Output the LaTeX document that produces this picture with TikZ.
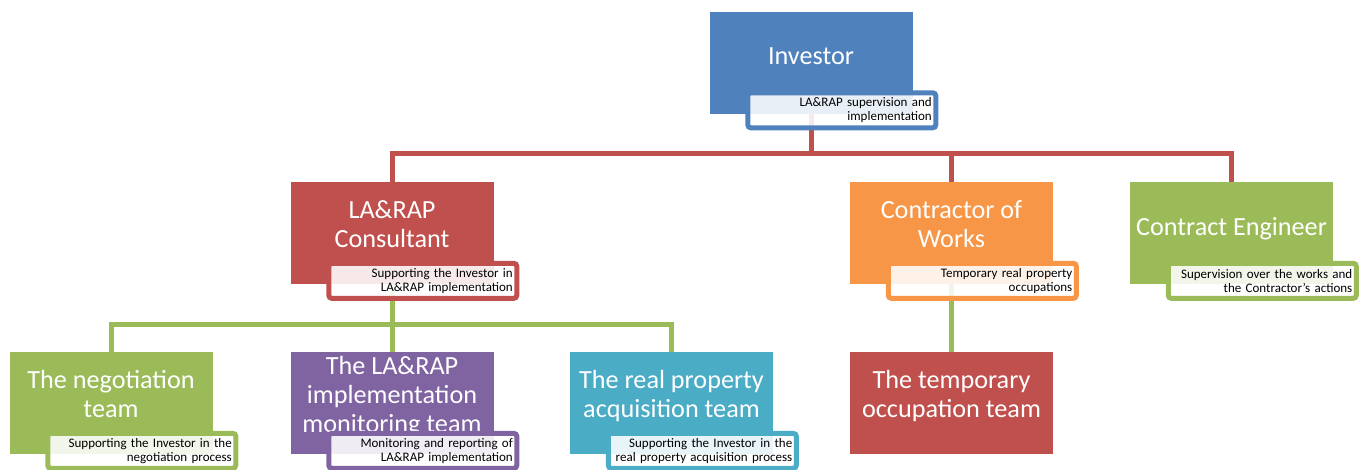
\documentclass[tikz,border=0pt]{standalone}
\usepackage{fontspec}
\setmainfont{Carlito}
\usepackage{tikz}

\definecolor{invblue}{HTML}{4F81BD}
\definecolor{conred}{HTML}{C0504D}
\definecolor{worksorange}{HTML}{F79646}
\definecolor{enggreen}{HTML}{9BBB59}
\definecolor{monpurple}{HTML}{8064A2}
\definecolor{acqaqua}{HTML}{4BACC6}

\begin{document}
\begin{tikzpicture}[x=1pt, y=-1pt,
	orgbox/.style={minimum width=203pt, minimum height=102pt, inner sep=0pt,
		text=white, align=center, font=\fontsize{26.2}{29}\selectfont,
		execute at begin node={\rule{0pt}{22pt}},
		execute at end node={\rule[-18pt]{0pt}{18pt}}},
	notebox/.style={line width=5pt, rounded corners=3pt, fill=white,
		fill opacity=0.88, text opacity=1, text=black,
		minimum width=188pt, minimum height=35pt, text width=180pt,
		inner xsep=4pt, inner ysep=0pt, outer sep=0pt, align=right,
		font=\fontsize{13}{13.6}\selectfont, anchor=north west},
	redline/.style={draw=conred, line width=5pt},
	greenline/.style={draw=enggreen, line width=5pt}]

	\useasboundingbox (0,0) rectangle (1362,469);

	% Top: the Investor
	\node[orgbox, fill=invblue] (inv) at (811,62.5) {Investor};

	% Second row
	\node[orgbox, fill=conred] (cons) at (392,233) {LA\&RAP\\Consultant};
	\node[orgbox, fill=worksorange] (works) at (951.5,233) {Contractor of\\Works};
	\node[orgbox, fill=enggreen] (eng) at (1231.5,233) {Contract Engineer};

	% Third row
	\node[orgbox, fill=enggreen] (nego) at (111,403) {The negotiation\\team};
	\node[orgbox, fill=monpurple] (moni) at (392,403) {The LA\&RAP\\implementation\\monitoring team};
	\node[orgbox, fill=acqaqua] (acq) at (671.5,403) {The real property\\acquisition team};
	\node[orgbox, fill=conred] (temp) at (951.5,403) {The temporary\\occupation team};

	% Connectors from the Investor
	\draw[redline] (inv.south) -- ++(0,39.5) -| (cons.north);
	\draw[redline] (inv.south) -- ++(0,39.5) -| (works.north);
	\draw[redline] (inv.south) -- ++(0,39.5) -| (eng.north);

	% Connectors from the consultant and the contractor
	\draw[greenline] (cons.south) -- ++(0,40.5) -| (nego.north);
	\draw[greenline] (cons.south) -- ++(0,40.5) -| (moni.north);
	\draw[greenline] (cons.south) -- ++(0,40.5) -| (acq.north);
	\draw[greenline] (works.south) -- (temp.north);

	% Role notes
	\node[notebox, draw=invblue] (invnote) at ([xshift=38.5pt, yshift=-81.5pt]inv.north west) {LA\&RAP supervision and\\implementation};
	\node[notebox, draw=conred] (consnote) at ([xshift=38.5pt, yshift=-81.5pt]cons.north west) {Supporting the Investor in\\LA\&RAP implementation};
	\node[notebox, draw=worksorange] (worksnote) at ([xshift=38.5pt, yshift=-81.5pt]works.north west) {Temporary real property\\occupations};
	\node[notebox, draw=enggreen] (engnote) at ([xshift=38.5pt, yshift=-81.5pt]eng.north west) {Supervision over the works and\\the Contractor’s actions};
	\node[notebox, draw=enggreen] (negonote) at ([xshift=38.5pt, yshift=-81.5pt]nego.north west) {Supporting the Investor in the\\negotiation process};
	\node[notebox, draw=monpurple] (moninote) at ([xshift=38.5pt, yshift=-81.5pt]moni.north west) {Monitoring and reporting of\\LA\&RAP implementation};
	\node[notebox, draw=acqaqua] (acqnote) at ([xshift=38.5pt, yshift=-81.5pt]acq.north west) {Supporting the Investor in the\\real property acquisition process};

\end{tikzpicture}
\end{document}
